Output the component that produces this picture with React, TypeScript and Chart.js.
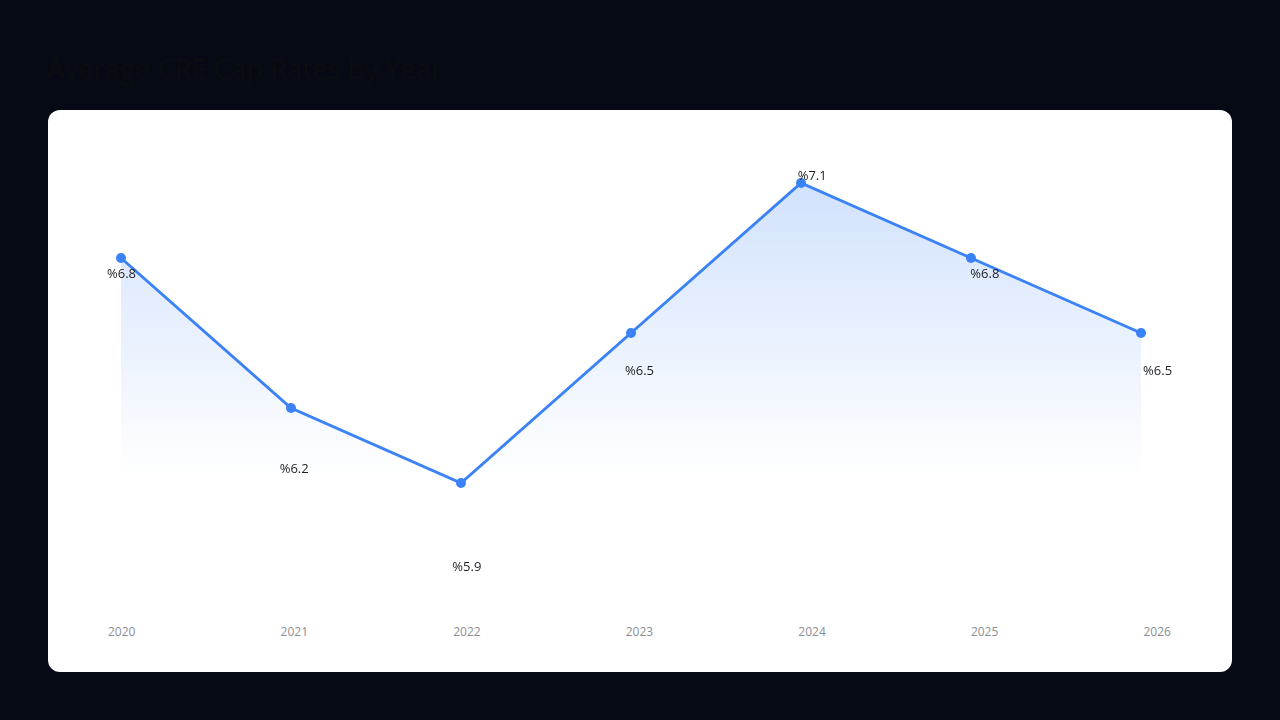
import { useEffect, useRef } from 'react';
import { Chart, registerables, type ChartConfiguration, type Plugin } from 'chart.js';

Chart.register(...registerables);

const years = ['2020', '2021', '2022', '2023', '2024', '2025', '2026'];
const capRates = [6.8, 6.2, 5.9, 6.5, 7.1, 6.8, 6.5];
const rateLabels = ['%6.8', '%6.2', '%5.9', '%6.5', '%7.1', '%6.8', '%6.5'];

const FONT = '"Open Sans", "Noto Sans", sans-serif';

export default function App() {
  const canvasRef = useRef<HTMLCanvasElement>(null);

  useEffect(() => {
    document.body.style.margin = '0';
    const canvas = canvasRef.current;
    if (!canvas) return;
    const ctx = canvas.getContext('2d');
    if (!ctx) return;

    // value labels sit on their own (hidden) scales, a little offset from the points
    const valueLabels: Plugin = {
      id: 'valueLabels',
      afterDatasetsDraw(c) {
        const xs = c.scales.x2;
        const ys = c.scales.y2;
        const g = c.ctx;
        g.save();
        g.fillStyle = '#1c1f24';
        g.font = '13px ' + FONT;
        g.textAlign = 'center';
        g.textBaseline = 'middle';
        capRates.forEach((v, i) => {
          g.fillText(rateLabels[i], xs.getPixelForValue(i) + 0.5, ys.getPixelForValue(v));
        });
        g.restore();
      },
    };

    const config: ChartConfiguration<'line'> = {
      type: 'line',
      data: {
        labels: years,
        datasets: [
          {
            data: capRates,
            borderColor: '#3b82f6',
            borderWidth: 3,
            pointRadius: 5,
            pointBackgroundColor: '#3b82f6',
            pointBorderWidth: 0,
            tension: 0,
            clip: false,
            fill: 'start',
            backgroundColor: (context) => {
              const area = context.chart.chartArea;
              if (!area) return 'rgba(59,130,246,0.2)';
              const grad = context.chart.ctx.createLinearGradient(0, area.top, 0, area.top + 345);
              grad.addColorStop(0, 'rgba(59,130,246,0.27)');
              grad.addColorStop(1, 'rgba(59,130,246,0)');
              return grad;
            },
          },
        ],
      },
      options: {
        responsive: true,
        maintainAspectRatio: false,
        animation: false,
        layout: { padding: { left: 73, right: 91, top: 23, bottom: 17 } },
        plugins: { legend: { display: false }, tooltip: { enabled: false } },
        scales: {
          x: { display: false },
          y: { display: false, min: 5.5, max: 7.3 },
          x2: { type: 'linear', display: false, min: 0, max: 5.907 },
          y2: { type: 'linear', display: false, min: 5.852, max: 7.2325 },
        },
      },
      plugins: [valueLabels],
    };

    const chart = new Chart(ctx, config);
    return () => chart.destroy();
  }, []);

  return (
    <div style={{ position: 'fixed', inset: 0, background: '#050a14', fontFamily: FONT }}>
      <div
        style={{
          position: 'absolute',
          left: 47,
          top: 50,
          fontSize: 27.4,
          fontWeight: 500,
          lineHeight: '37px',
          color: '#0c0d10',
        }}
      >
        Average CRE Cap Rates by Year
      </div>
      <div
        style={{
          position: 'absolute',
          left: 48,
          top: 110,
          width: 1184,
          height: 562,
          background: '#ffffff',
          borderRadius: 12,
          overflow: 'hidden',
        }}
      >
        <div style={{ position: 'absolute', left: 0, top: 0, width: 1184, height: 490 }}>
          <canvas ref={canvasRef} />
        </div>
        <div
          style={{
            position: 'absolute',
            left: 60,
            top: 513,
            width: 1063,
            display: 'flex',
            justifyContent: 'space-between',
            fontSize: 12,
            lineHeight: '18px',
            color: '#8b8e96',
          }}
        >
          {years.map((y) => (
            <span key={y}>{y}</span>
          ))}
        </div>
      </div>
    </div>
  );
}
